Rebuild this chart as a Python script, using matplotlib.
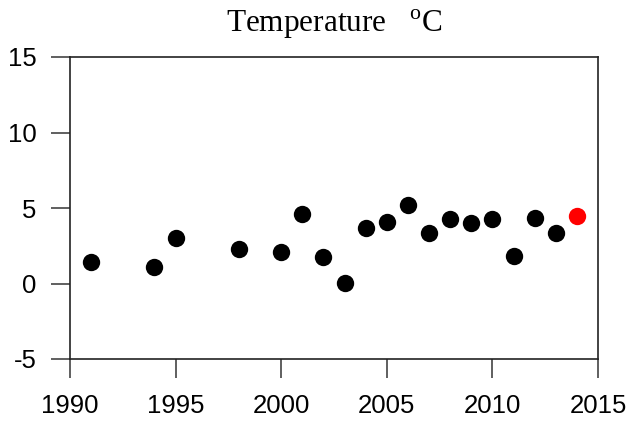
import matplotlib

matplotlib.use("Agg")
import matplotlib.pyplot as plt

# Annual temperature values
years = [1991, 1994, 1995, 1998, 2000, 2001, 2002, 2003, 2004, 2005,
         2006, 2007, 2008, 2009, 2010, 2011, 2012, 2013]
temps = [1.4, 1.1, 3.0, 2.3, 2.1, 4.6, 1.75, 0.05, 3.65, 4.1,
         5.2, 3.35, 4.25, 4.0, 4.3, 1.8, 4.35, 3.35]
latest_year = [2014]
latest_temp = [4.45]

x_ticks = [1990, 1995, 2000, 2005, 2010, 2015]
y_ticks = [-5, 0, 5, 10, 15]

plt.rcParams["font.family"] = ["Liberation Sans", "DejaVu Sans"]
plt.rcParams["axes.unicode_minus"] = False
plt.rcParams["mathtext.fontset"] = "custom"
plt.rcParams["mathtext.rm"] = "Liberation Serif"

fig = plt.figure(figsize=(6.29, 4.25), dpi=100)
ax = fig.add_axes([70 / 629, 1 - 359 / 425, 528 / 629, 302 / 425])

ax.plot(years, temps, "o", color="black", markersize=12.5, markeredgewidth=0)
ax.plot(latest_year, latest_temp, "o", color="#ff0000", markersize=12.5, markeredgewidth=0)

ax.set_xlim(1990, 2015)
ax.set_ylim(-5, 15)
ax.set_xticks(x_ticks)
ax.set_yticks(y_ticks)
ax.tick_params(direction="out", length=13.5, width=1.2, color="#444444",
               labelsize=18.5)
ax.tick_params(axis="x", pad=12)
ax.tick_params(axis="y", pad=10.5)
for sp in ax.spines.values():
    sp.set_linewidth(1.2)
    sp.set_color("#222222")

ax.set_title(r"Temperature   $^{\rm o}$C", fontsize=22.5, pad=18,
             fontfamily="Liberation Serif", x=0.5)

fig.savefig("out.png", dpi=100)
